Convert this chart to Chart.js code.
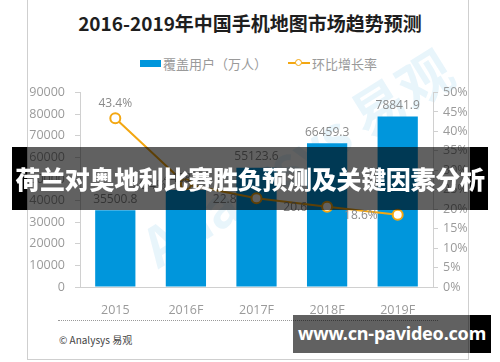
<!DOCTYPE html>
<html>
<head>
<meta charset="utf-8">
<script src="https://cdn.jsdelivr.net/npm/chart.js@4"></script>
<style>
  body { margin: 0; width: 500px; height: 362px; background: #fff; overflow: hidden; position: relative;
         font-family: "Noto Sans CJK SC", "Noto Sans", sans-serif; }
  .card { position: absolute; left: 27px; top: -1px; width: 442px; height: 361px; border: 1px solid #cfcfcf; box-sizing: border-box; }
  .title { position: absolute; left: 0; width: 500px; top: 9px; text-align: center; font-size: 19px; font-weight: bold; color: #1e1e1e; }
  .legend { position: absolute; top: 54px; left: 140px; font-size: 13px; color: #9a9a9a; height: 18px; }
  .legend span { position: absolute; white-space: nowrap; top: 0; }
  .sw-bar { position: absolute; left: 0; top: 6px; width: 21px; height: 7px; background: #0096dc; }
  .sw-line { position: absolute; left: 148px; top: 8px; width: 22px; height: 2px; background: #f3a712; }
  .sw-dot { position: absolute; left: 155px; top: 5px; width: 5px; height: 5px; border: 1.5px solid #f3a712; border-radius: 50%; background: #fff; }
  .wm { position: absolute; left: 120px; top: 120px; width: 340px; text-align: center; font-size: 54px; font-weight: bold; color: rgba(0,140,215,0.09); transform: rotate(-32deg); white-space: nowrap; }
  #wrap { position: absolute; left: 0; top: 75px; width: 500px; height: 240px; }
  .dots { position: absolute; left: 58px; top: 320px; width: 380px; border-top: 1px dotted #999; }
  .foot { position: absolute; left: 59px; top: 332px; font-size: 10px; color: #444; }
  .blk { position: absolute; background: #000; }
  .dim { position: absolute; background: rgba(0,0,0,0.62); }
  .band-txt { position: absolute; left: 0; width: 500px; top: 160px; text-align: center; font-size: 25px; font-weight: 900; color: #fff; letter-spacing: -0.3px; }
  .site-txt { position: absolute; left: 293px; width: 198px; top: 322px; text-align: center; white-space: nowrap; font-family: "Noto Sans", sans-serif; font-size: 18px; line-height: 22px; font-weight: bold; color: #fff; letter-spacing: -0.2px; }
</style>
</head>
<body>
<div class="card"></div>
<div class="title">2016-2019年中国手机地图市场趋势预测</div>
<div class="legend">
  <div class="sw-bar"></div><span style="left:23px">覆盖用户（万人）</span>
  <div class="sw-line"></div><div class="sw-dot"></div><span style="left:172px">环比增长率</span>
</div>
<div class="wm">Analysys 易观</div>
<div id="wrap"><canvas id="myChart" width="500" height="240"></canvas></div>
<div class="dots"></div>
<div class="foot">© Analysys 易观</div>
<div class="blk" style="left:12px;top:147px;width:15px;height:63px"></div>
<div class="blk" style="left:470px;top:147px;width:18px;height:63px"></div>
<div class="dim" style="left:27px;top:147px;width:443px;height:63px"></div>
<div class="band-txt">荷兰对奥地利比赛胜负预测及关键因素分析</div>
<div class="blk" style="left:470px;top:315px;width:21px;height:38px"></div>
<div class="dim" style="left:293px;top:315px;width:177px;height:38px"></div>
<div class="site-txt">www.cn-pavideo.com</div>

<script>
const years = ["2015", "2016F", "2017F", "2018F", "2019F"];
const users = [35500.8, 44886.5, 55123.6, 66459.3, 78841.9];
const growth = [43.4, 26.4, 22.8, 20.6, 18.6];
const growthLabels = ["43.4%", "26.4%", "22.8", "20.6", "18.6%"];
const leftTicks = [0, 10000, 20000, 30000, 40000, 50000, 60000, 70000, 80000, 90000];

const valueLabels = {
    id: "valueLabels",
    afterDatasetsDraw(chart) {
        const ctx = chart.ctx;
        ctx.save();
        ctx.font = "12px 'Open Sans', sans-serif";
        ctx.fillStyle = "#8a8a8a";
        // dataset 1 = bars, dataset 0 = line
        chart.getDatasetMeta(1).data.forEach(function (bar, i) {
            ctx.textAlign = "center";
            ctx.textBaseline = "bottom";
            ctx.fillText(users[i].toFixed(1), bar.x, bar.y - 5);
        });
        chart.getDatasetMeta(0).data.forEach(function (pt, i) {
            if (i === 0) {
                ctx.textAlign = "center";
                ctx.textBaseline = "bottom";
                ctx.fillText(growthLabels[i], pt.x, pt.y - 9);
            } else {
                ctx.textAlign = "right";
                ctx.textBaseline = "middle";
                ctx.fillText(growthLabels[i], pt.x - 20, pt.y + 1);
            }
        });
        ctx.restore();
    }
};

const tickFont = { family: "'Open Sans', sans-serif", size: 12.5 };

new Chart(document.getElementById("myChart").getContext("2d"), {
    data: {
        labels: years,
        datasets: [
            {
                type: "line",
                label: "环比增长率",
                data: growth,
                yAxisID: "y1",
                borderColor: "#f3a712",
                borderWidth: 2,
                pointRadius: 5,
                pointBorderWidth: 2,
                pointBackgroundColor: "#fff",
                pointBorderColor: "#f3a712",
                tension: 0,
                order: 0
            },
            {
                type: "bar",
                label: "覆盖用户（万人）",
                data: users,
                yAxisID: "y",
                backgroundColor: "#0096dc",
                categoryPercentage: 0.57,
                barPercentage: 1,
                order: 1
            }
        ]
    },
    options: {
        responsive: false,
        animation: false,
        layout: { padding: { left: 28, right: 22, top: 12, bottom: 0 } },
        plugins: { legend: { display: false }, tooltip: { enabled: false } },
        scales: {
            x: {
                grid: { display: false },
                border: { color: "#d0d0d0" },
                ticks: { color: "#9a9a9a", font: tickFont, padding: 8 },
                afterFit: function (s) { s.height = 28; }
            },
            y: {
                position: "left",
                min: 0, max: 90000,
                afterBuildTicks: function (s) { s.ticks = leftTicks.map(v => ({ value: v })); },
                grid: { drawOnChartArea: false, drawTicks: true, tickLength: 5, color: "#d0d0d0" },
                border: { color: "#d0d0d0" },
                ticks: { color: "#9a9a9a", font: tickFont, padding: 10, callback: v => String(v) },
                afterFit: function (s) { s.width = 52; }
            },
            y1: {
                position: "right",
                min: 0, max: 50,
                ticks: { stepSize: 5, color: "#9a9a9a", font: tickFont, padding: 5, callback: v => v + "%" },
                grid: { drawOnChartArea: false, drawTicks: true, tickLength: 5, color: "#d0d0d0" },
                border: { color: "#d0d0d0" },
                afterFit: function (s) { s.width = 45; }
            }
        }
    },
    plugins: [valueLabels]
});
</script>
</body>
</html>
